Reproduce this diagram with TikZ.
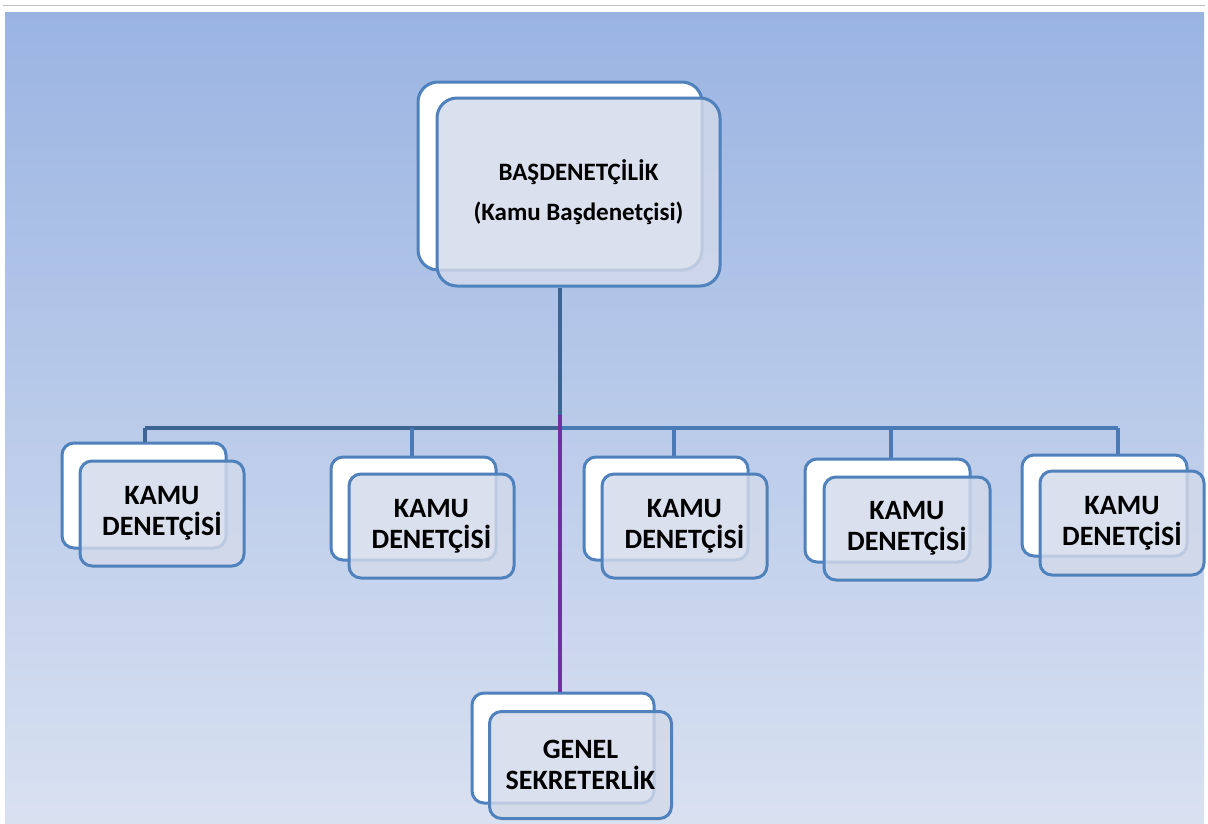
\documentclass[tikz,border=0pt]{standalone}
\usepackage{fontspec}
\setmainfont{Carlito}
\begin{document}
\begin{tikzpicture}[x=1pt,y=-1pt,
  bdr/.style={draw=boxblue, line width=3pt},
  backbox/.style={bdr, fill=white, rounded corners=12pt, inner sep=0pt},
  frontbox/.style={bdr, fill=frontfill, fill opacity=0.82, text opacity=1, rounded corners=12pt, inner sep=0pt, align=center, font=\bfseries\fontsize{28}{31}\selectfont},
  conn/.style={line width=3.2pt, draw=lineblue},
  connd/.style={line width=3.2pt, draw=linedark},
  connp/.style={line width=3.2pt, draw=purp},
]
\definecolor{boxblue}{HTML}{4F81BD}
\definecolor{frontfill}{HTML}{D3DAEA}
\definecolor{lineblue}{HTML}{4A7BB7}
\definecolor{linedark}{HTML}{3C6594}
\definecolor{purp}{HTML}{7030A0}
\definecolor{bgtop}{HTML}{9AB4E2}
\definecolor{bgbot}{HTML}{D9E1F1}
\useasboundingbox (0,0) rectangle (1208,823);
\fill[white] (0,0) rectangle (1208,823);
\draw[black!25, line width=1pt] (3,5) -- (1205,5);
\shade[top color=bgtop, bottom color=bgbot] (5,12) rectangle (1204,823);

% top box
\node[backbox, rounded corners=20pt, minimum width=284pt, minimum height=188pt] (topb) at (560,176) {};
\node[frontbox, rounded corners=20pt, minimum width=283pt, minimum height=188pt, font=\bfseries\fontsize{25}{40}\selectfont] (top) at (578.5,192) {BAŞDENETÇİLİK\\(Kamu Başdenetçisi)};

% junction points
\coordinate (j) at (560,428);
\coordinate (jp) at (560,415);
\coordinate (c1) at (145,428);
\coordinate (c2) at (412,428);
\coordinate (c3) at (674,428);
\coordinate (c4) at (891,428);
\coordinate (c5) at (1118,428);

% kamu boxes
\node[backbox, minimum width=164pt, minimum height=105pt] (k1b) at (144,495.5) {};
\node[frontbox, minimum width=164pt, minimum height=105pt] (k1) at (162,513.5) {KAMU\\DENETÇİSİ};
\node[backbox, minimum width=165pt, minimum height=103pt] (k2b) at (413.5,508.5) {};
\node[frontbox, minimum width=165pt, minimum height=104pt] (k2) at (431.5,526) {KAMU\\DENETÇİSİ};
\node[backbox, minimum width=164pt, minimum height=103pt] (k3b) at (666,508.5) {};
\node[frontbox, minimum width=165pt, minimum height=104pt] (k3) at (684.5,526) {KAMU\\DENETÇİSİ};
\node[backbox, minimum width=165pt, minimum height=103pt] (k4b) at (887.5,510.5) {};
\node[frontbox, minimum width=166pt, minimum height=103pt] (k4) at (907,528.5) {KAMU\\DENETÇİSİ};
\node[backbox, minimum width=165pt, minimum height=101pt] (k5b) at (1104.5,505.5) {};
\node[frontbox, minimum width=164pt, minimum height=104pt] (k5) at (1122,523) {KAMU\\DENETÇİSİ};

% genel
\node[backbox, minimum width=182pt, minimum height=110pt] (gb) at (563,748) {};
\node[frontbox, minimum width=182pt, minimum height=107pt] (g) at (580.5,765) {GENEL\\SEKRETERLİK};

% connectors
\draw[connd] (j |- top.south) -- (j);
\draw[connd] (c1) -- (j);
\draw[conn] (j) -- (c5);
\draw[connd] (c1) -- (c1 |- k1b.north);
\draw[conn] (c2) -- (c2 |- k2b.north);
\draw[conn] (c3) -- (c3 |- k3b.north);
\draw[conn] (c4) -- (c4 |- k4b.north);
\draw[conn] (c5) -- (c5 |- k5b.north);
\draw[connp] (jp) -- (jp |- gb.north);
\end{tikzpicture}
\end{document}
